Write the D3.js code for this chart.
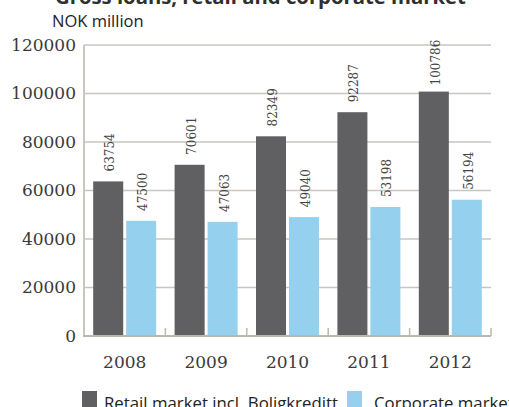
<!DOCTYPE html>
<html>
<head>
<meta charset="utf-8">
<script src="https://cdn.jsdelivr.net/npm/d3@7"></script>
<style>
  html, body { margin: 0; padding: 0; background: #fff; }
  svg { display: block; }
</style>
</head>
<body>
<svg id="chart" width="509" height="407"></svg>
<script>
// Gross loans by market, NOK million
const years = ["2008", "2009", "2010", "2011", "2012"];
const seriesNames = ["Retail market incl. Boligkreditt", "Corporate market"];
const retailValues = [63754, 70601, 82349, 92287, 100786];
const corporateValues = [47500, 47063, 49040, 53198, 56194];
const yTicks = [0, 20000, 40000, 60000, 80000, 100000, 120000];
const seriesColors = ["#606062", "#95d0ef"];

const svg = d3.select("#chart");
const plot = { left: 84, right: 491, top: 45, bottom: 336 };

const y = d3.scaleLinear().domain([0, 120000]).range([plot.bottom, plot.top]);
const x0 = d3.scaleBand().domain(years).range([plot.left, plot.right]);
const x1 = d3.scaleBand().domain(seriesNames)
  .range([9.2, x0.step() - 9.2]).paddingInner(0.09);
const color = d3.scaleOrdinal().domain(seriesNames).range(seriesColors);

const rows = years.map((yr, i) => ({
  year: yr,
  values: [
    { name: seriesNames[0], value: retailValues[i] },
    { name: seriesNames[1], value: corporateValues[i] }
  ]
}));

// Title (partly above the top edge) and unit
svg.append("text")
  .attr("x", 55).attr("y", 3.5)
  .attr("font-family", "'Open Sans', sans-serif")
  .attr("font-weight", 700).attr("font-size", 20.3)
  .attr("fill", "#2f2f2f")
  .text("Gross loans, retail and corporate market");

svg.append("text")
  .attr("x", 52).attr("y", 27)
  .attr("font-family", "'Open Sans', sans-serif")
  .attr("font-size", 16.5)
  .attr("fill", "#222")
  .text("NOK million");

// Horizontal gridlines
svg.append("g")
  .selectAll("line")
  .data(yTicks.filter(d => d > 0))
  .join("line")
  .attr("x1", plot.left).attr("x2", plot.right)
  .attr("y1", d => y(d)).attr("y2", d => y(d))
  .attr("stroke", "#c9c6be").attr("stroke-width", 1.5);

// Y axis labels
const yAxis = d3.axisLeft(y).tickValues(yTicks).tickSize(0).tickPadding(8)
  .tickFormat(d3.format("d"));
const yG = svg.append("g").attr("transform", `translate(${plot.left},0)`).call(yAxis);
yG.select(".domain").remove();
yG.selectAll("text")
  .attr("font-family", "'DejaVu Serif', serif")
  .attr("font-size", 17).attr("fill", "#3a3a3a");

// Bars
const groups = svg.append("g")
  .selectAll("g")
  .data(rows)
  .join("g")
  .attr("transform", d => `translate(${x0(d.year)},0)`);

groups.selectAll("rect")
  .data(d => d.values)
  .join("rect")
  .attr("x", d => x1(d.name))
  .attr("width", x1.bandwidth())
  .attr("y", d => y(d.value))
  .attr("height", d => y(0) - y(d.value))
  .attr("fill", d => color(d.name));

// Value labels, rotated above each bar
groups.selectAll("text.val")
  .data(d => d.values)
  .join("text")
  .attr("class", "val")
  .attr("transform", d =>
    `translate(${x1(d.name) + x1.bandwidth() / 2 + 6},${y(d.value) - 29}) rotate(-90)`)
  .attr("text-anchor", "middle")
  .attr("font-family", "'DejaVu Serif', serif")
  .attr("font-size", 12)
  .attr("fill", "#444")
  .text(d => d.value);

// Left axis line
svg.append("line")
  .attr("x1", plot.left).attr("x2", plot.left)
  .attr("y1", plot.top).attr("y2", plot.bottom)
  .attr("stroke", "#c9c6be").attr("stroke-width", 2);

// Bottom axis with inward ticks at category boundaries
const xAxis = d3.axisBottom(x0).tickSize(0).tickPadding(0);
const xG = svg.append("g").attr("transform", `translate(0,${plot.bottom})`).call(xAxis);
xG.select(".domain").remove();
xG.selectAll("text")
  .attr("dy", null).attr("y", 32)
  .attr("font-family", "'DejaVu Serif', serif")
  .attr("font-size", 17).attr("fill", "#3a3a3a");

svg.append("line")
  .attr("x1", plot.left - 1).attr("x2", plot.right)
  .attr("y1", plot.bottom).attr("y2", plot.bottom)
  .attr("stroke", "#bcb8b0").attr("stroke-width", 2);

svg.append("g")
  .selectAll("line")
  .data(years.slice(1).map(d => x0(d)).concat([plot.right]))
  .join("line")
  .attr("x1", d => d).attr("x2", d => d)
  .attr("y1", plot.bottom).attr("y2", plot.bottom - 8)
  .attr("stroke", "#bcb8b0").attr("stroke-width", 1.5);

// Legend (runs past the bottom and right edges)
const legendSwatchX = [82, 347];
const legendTextX = [104, 374];
const legend = svg.append("g")
  .selectAll("g")
  .data(seriesNames)
  .join("g");
legend.append("rect")
  .attr("x", (d, i) => legendSwatchX[i]).attr("y", 391)
  .attr("width", 15).attr("height", 16)
  .attr("fill", d => color(d));
legend.append("text")
  .attr("x", (d, i) => legendTextX[i]).attr("y", 408.5)
  .attr("font-family", "'Open Sans', sans-serif")
  .attr("font-size", 16.8)
  .attr("fill", "#222")
  .text(d => d);
</script>
</body>
</html>
